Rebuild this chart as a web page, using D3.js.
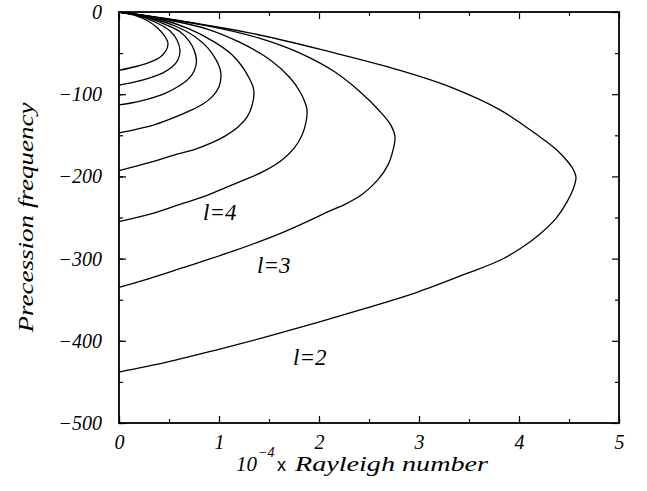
<!DOCTYPE html>
<html>
<head>
<meta charset="utf-8">
<script src="https://cdn.jsdelivr.net/npm/d3@7"></script>
<style>
  html, body { margin: 0; padding: 0; background: #fff; }
</style>
</head>
<body>
<div id="chart"></div>
<script>
// 10^-4 x Rayleigh number (x) vs precession frequency (y), one curve per l
// each curve: upper branch out from the origin, round the tip, lower branch back to x = 0
const curveL2 = [[0,0],[1.29,-25],[2.16,-50],[2.81,-71],[3.31,-91],[3.81,-119],[4.21,-152],[4.37,-167],[4.48,-181],[4.54,-191],[4.57,-201],
  [4.54,-216],[4.48,-231],[4.37,-251],[4.21,-270],[4.01,-288],[3.81,-302],[3.48,-318],[2.98,-341],[2.48,-360],[1.98,-378],[1.48,-395],[0.98,-411],[0.48,-426],[0,-438]];
const curveL3 = [[0,0],[0.81,-15],[1.41,-32],[1.81,-50],[2.16,-73],[2.41,-97],[2.61,-121],[2.72,-138],[2.76,-152],
  [2.74,-168],[2.69,-186],[2.59,-204],[2.44,-221],[2.26,-234],[2.11,-242],[1.81,-259],[1.64,-268],[1.39,-280],[1.14,-291],[0.64,-311],[0.31,-324],[0,-335]];
const curveL4 = [[0,0],[0.51,-10],[0.89,-21],[1.21,-37],[1.51,-58],[1.71,-80],[1.81,-97],[1.86,-110],[1.88,-119],
  [1.87,-134],[1.83,-150],[1.75,-166],[1.63,-180],[1.46,-193],[1.26,-204],[1.06,-214],[0.86,-224],[0.61,-234],[0.31,-246],[0,-255]];
const curveL5 = [[0,0],[0.36,-7],[0.69,-20],[0.96,-37],[1.13,-52],[1.23,-66],[1.30,-80],[1.34,-91],[1.35,-99],
  [1.33,-114],[1.28,-128],[1.19,-140],[1.06,-151],[0.93,-159],[0.76,-167],[0.58,-173],[0.31,-183],[0,-193]];
const curveL6 = [[0,0],[0.31,-7],[0.56,-17],[0.76,-30],[0.89,-44],[0.97,-58],[1.01,-69],[1.02,-78],
  [1.00,-91],[0.94,-102],[0.84,-112],[0.71,-120],[0.56,-128],[0.36,-137],[0.16,-143],[0,-147]];
const curveL7 = [[0,0],[0.26,-6],[0.46,-15],[0.61,-24],[0.70,-35],[0.75,-46],[0.775,-60],
  [0.75,-72],[0.69,-82],[0.60,-90],[0.46,-99],[0.29,-106],[0.11,-111],[0,-113]];
const curveL8 = [[0,0],[0.21,-5],[0.39,-14],[0.51,-23],[0.58,-34],[0.61,-47],
  [0.59,-58],[0.53,-67],[0.44,-74],[0.31,-80],[0.16,-85],[0,-89]];
const curveL9 = [[0,0],[0.16,-4],[0.29,-11],[0.39,-20],[0.45,-28],[0.49,-38],
  [0.47,-47],[0.41,-55],[0.31,-61],[0.18,-66],[0,-71]];
const curves = [curveL2, curveL3, curveL4, curveL5, curveL6, curveL7, curveL8, curveL9];

const curveLabels = ["l=2", "l=3", "l=4"];
const labelAt = [[1.74, -429], [1.38, -317], [0.84, -253]];

const xTicks = [0, 1, 2, 3, 4, 5];
const yTicks = [0, -100, -200, -300, -400, -500];

const width = 647, height = 491;
const margin = { top: 12, right: 28, bottom: 68, left: 119 };
const serif = "Liberation Serif, Times New Roman, serif";

const svg = d3.select("#chart").append("svg")
  .attr("width", width)
  .attr("height", height)
  .attr("font-family", serif);

const x = d3.scaleLinear().domain([0, 5]).range([margin.left, width - margin.right]);
const y = d3.scaleLinear().domain([-500, 0]).range([height - margin.bottom, margin.top]);

// curves drawn through the read-off points
const line = d3.line()
  .x(d => x(d[0]))
  .y(d => y(d[1]))
  .curve(d3.curveCatmullRom.alpha(0.5));

svg.append("g")
  .selectAll("path")
  .data(curves)
  .join("path")
  .attr("d", line)
  .attr("fill", "none")
  .attr("stroke", "#000")
  .attr("stroke-width", 1.3);

// frame with inward ticks on all sides
const tickFmt = d => d3.format("d")(d).replace("-", "\u2212");
const xMinor = d3.range(0, 5.01, 0.5);
const yMinor = d3.range(-500, 1, 50);

svg.append("g")
  .attr("transform", `translate(0,${y(-500)})`)
  .call(d3.axisBottom(x).tickValues(xMinor).tickSize(-4).tickFormat(""))
  .call(g => g.select(".domain").remove());
svg.append("g")
  .attr("transform", `translate(0,${y(-500)})`)
  .call(d3.axisBottom(x).tickValues(xTicks).tickSize(-7).tickPadding(12).tickFormat(tickFmt))
  .call(g => g.select(".domain").remove());
svg.append("g")
  .attr("transform", `translate(0,${y(0)})`)
  .call(d3.axisTop(x).tickValues(xMinor).tickSize(-4).tickFormat(""))
  .call(g => g.selectAll(".tick").filter(d => d % 1 === 0).select("line").attr("y2", 7))
  .call(g => g.select(".domain").remove());

svg.append("g")
  .attr("transform", `translate(${x(0)},0)`)
  .call(d3.axisLeft(y).tickValues(yMinor).tickSize(-4).tickFormat(""))
  .call(g => g.select(".domain").remove());
svg.append("g")
  .attr("transform", `translate(${x(0)},0)`)
  .call(d3.axisLeft(y).tickValues(yTicks).tickSize(-7).tickPadding(17).tickFormat(tickFmt))
  .call(g => g.select(".domain").remove());
svg.append("g")
  .attr("transform", `translate(${x(5)},0)`)
  .call(d3.axisRight(y).tickValues(yMinor).tickSize(-4).tickFormat(""))
  .call(g => g.selectAll(".tick").filter(d => d % 100 === 0).select("line").attr("x2", -7))
  .call(g => g.select(".domain").remove());

svg.selectAll(".tick line").attr("stroke", "#000").attr("stroke-width", 1.2);
svg.selectAll(".tick text")
  .attr("font-family", serif)
  .attr("font-style", "italic")
  .attr("font-size", 20)
  .attr("fill", "#000");

svg.append("rect")
  .attr("x", x(0))
  .attr("y", y(0))
  .attr("width", x(5) - x(0))
  .attr("height", y(-500) - y(0))
  .attr("fill", "none")
  .attr("stroke", "#000")
  .attr("stroke-width", 1.8);

// curve labels
svg.append("g")
  .selectAll("text")
  .data(curveLabels)
  .join("text")
  .attr("x", (d, i) => x(labelAt[i][0]))
  .attr("y", (d, i) => y(labelAt[i][1]))
  .attr("font-style", "italic")
  .attr("font-size", 23)
  .text(d => d);

// axis titles
svg.append("text")
  .attr("x", 236).attr("y", 471)
  .attr("font-style", "italic").attr("font-size", 21)
  .text("10");
svg.append("text")
  .attr("x", 258).attr("y", 457)
  .attr("font-style", "italic").attr("font-size", 14)
  .text("\u22124");
svg.append("text")
  .attr("x", 277).attr("y", 471)
  .attr("font-family", "Liberation Sans, Arial, sans-serif").attr("font-size", 18)
  .text("x");
svg.append("text")
  .attr("x", 295).attr("y", 471)
  .attr("font-style", "italic").attr("font-size", 22)
  .attr("textLength", 193)
  .attr("lengthAdjust", "spacingAndGlyphs")
  .text("Rayleigh number");

svg.append("text")
  .attr("transform", `translate(33,${(y(0) + y(-500)) / 2}) rotate(-90)`)
  .attr("text-anchor", "middle")
  .attr("font-style", "italic")
  .attr("font-size", 22)
  .attr("textLength", 230)
  .attr("lengthAdjust", "spacingAndGlyphs")
  .text("Precession frequency");
</script>
</body>
</html>
